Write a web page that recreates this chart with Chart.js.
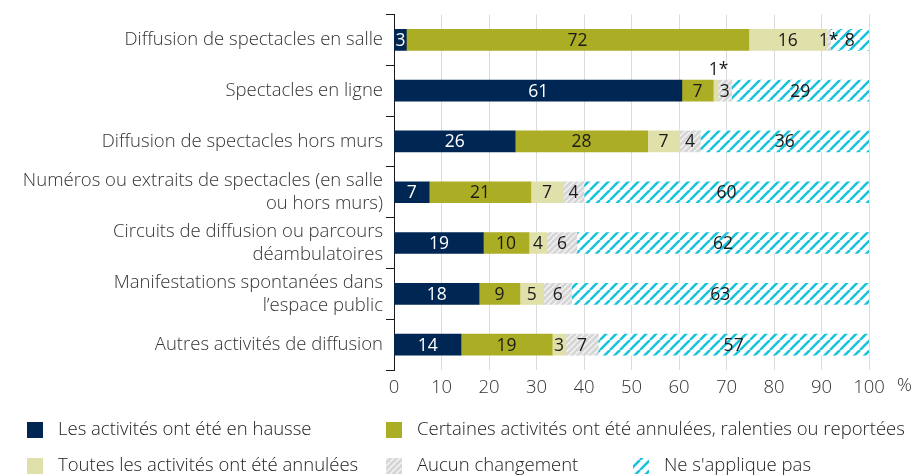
<!DOCTYPE html>
<html>
<head>
<meta charset="utf-8">
<script src="https://cdn.jsdelivr.net/npm/chart.js@4/dist/chart.umd.min.js"></script>
<style>
  html, body { margin: 0; padding: 0; background: #fff; }
  #wrap { width: 922px; height: 476px; position: relative; }
</style>
</head>
<body>
<div id="wrap"><canvas id="chart" width="922" height="476"></canvas></div>
<script>
const categories = [
  'Diffusion de spectacles en salle',
  'Spectacles en ligne',
  'Diffusion de spectacles hors murs',
  ['Numéros ou extraits de spectacles (en salle', 'ou hors murs)'],
  ['Circuits de diffusion ou parcours', 'déambulatoires'],
  ['Manifestations spontanées dans', 'l’espace public'],
  'Autres activités de diffusion'
];

const seriesNames = [
  'Les activités ont été en hausse',
  'Certaines activités ont été annulées, ralenties ou reportées',
  'Toutes les activités ont été annulées',
  'Aucun changement',
  "Ne s'applique pas"
];

// % per row (labels are the rounded values)
const hausse = [2.6, 60.6, 25.5, 7.4, 18.8, 17.9, 14.1];
const certaines = [72.1, 6.6, 27.9, 21.4, 9.6, 8.6, 19.2];
const toutes = [16.4, 1.0, 6.7, 6.8, 3.8, 5.0, 2.9];
const aucun = [0.8, 2.9, 4.4, 4.4, 6.3, 5.9, 6.8];
const sansObjet = [8.1, 28.9, 35.5, 60.0, 61.5, 62.6, 57.0];

const xTicks = [0, 10, 20, 30, 40, 50, 60, 70, 80, 90, 100];

function makePattern(size, bg, stroke, lineWidth) {
  const c = document.createElement('canvas');
  c.width = size; c.height = size;
  const g = c.getContext('2d');
  g.fillStyle = bg;
  g.fillRect(0, 0, size, size);
  g.strokeStyle = stroke;
  g.lineWidth = lineWidth;
  g.beginPath();
  [-size, 0, size].forEach((o) => {
    g.moveTo(o, size);
    g.lineTo(o + size, 0);
  });
  g.stroke();
  return g.createPattern(c, 'repeat');
}

const ctx = document.getElementById('chart').getContext('2d');
const grayHatch = makePattern(6, '#d6d6d6', '#f4f4f4', 1.4);
const cyanHatch = makePattern(10, '#ffffff', '#19c3dc', 2.6);

const colors = ['#002654', '#abad24', '#dfe0aa', grayHatch, cyanHatch];
const values = [hausse, certaines, toutes, aucun, sansObjet];

const FONT = '"Open Sans", "Noto Sans", sans-serif';

// rounded value labels on the segments
const segmentLabels = {
  id: 'segmentLabels',
  afterDatasetsDraw(chart) {
    const c = chart.ctx;
    const area = chart.chartArea;
    c.save();
    c.font = '400 17.5px ' + FONT;
    c.textAlign = 'center';
    c.textBaseline = 'middle';
    chart.data.datasets.forEach((ds, di) => {
      chart.getDatasetMeta(di).data.forEach((bar, i) => {
        const v = Math.round(ds.data[i]);
        const left = Math.max(bar.base, area.left);
        const right = Math.min(bar.x, area.right);
        let x = (left + right) / 2;
        let y = bar.y + 1;
        const text = v === 1 ? '1*' : String(v);
        // the tiny "toutes annulées" slice gets its label above the bar
        if (v === 1 && di === 2) { y = bar.y - 21; x += 3; }
        c.fillStyle = di === 0 ? '#ffffff' : '#1a1a1a';
        c.fillText(text, x, y);
      });
    });
    c.restore();
  }
};

const extras = {
  id: 'extras',
  afterDraw(chart) {
    const c = chart.ctx;
    const xs = chart.scales.x;
    c.save();
    c.font = '300 18.5px ' + FONT;
    c.fillStyle = '#333';
    c.textBaseline = 'middle';
    c.textAlign = 'left';
    c.fillText('%', xs.right + 28, 386);

    const spots = [[27, 430], [386, 430], [27, 466], [386, 466], [633, 466]];
    chart.data.datasets.forEach((ds, i) => {
      const [sx, sy] = spots[i];
      c.fillStyle = ds.backgroundColor;
      c.fillRect(sx, sy - 8, 16, 16);
      c.fillStyle = '#222';
      c.fillText(ds.label, sx + 31, sy);
    });
    c.restore();
  }
};

new Chart(ctx, {
  type: 'bar',
  data: {
    labels: categories,
    datasets: seriesNames.map((name, i) => ({
      label: name,
      data: values[i],
      backgroundColor: colors[i],
      borderWidth: 0,
      barThickness: 21
    }))
  },
  options: {
    indexAxis: 'y',
    responsive: false,
    animation: false,
    layout: { padding: { top: 13, right: 53, bottom: 76, left: 0 } },
    plugins: {
      legend: { display: false },
      tooltip: { enabled: false }
    },
    scales: {
      x: {
        stacked: true,
        min: 0,
        max: 100,
        afterFit(scale) { scale.height = 30; },
        afterBuildTicks(scale) { scale.ticks = xTicks.map((v) => ({ value: v })); },
        border: { display: false },
        grid: { color: '#dcdcdc', lineWidth: 1, drawTicks: false },
        ticks: {
          padding: 7,
          color: '#333',
          font: { family: FONT, size: 18.5, weight: '300' }
        }
      },
      y: {
        stacked: true,
        afterFit(scale) { scale.width = 394; },
        border: { display: true, color: '#1a1a1a', width: 1 },
        grid: {
          offset: true,
          drawOnChartArea: false,
          drawTicks: true,
          tickLength: 8,
          color: '#1a1a1a'
        },
        ticks: {
          padding: 3,
          color: '#333',
          font: { family: FONT, size: 18.5, weight: '300', lineHeight: 1.24 }
        }
      }
    }
  },
  plugins: [segmentLabels, extras]
});
</script>
</body>
</html>
